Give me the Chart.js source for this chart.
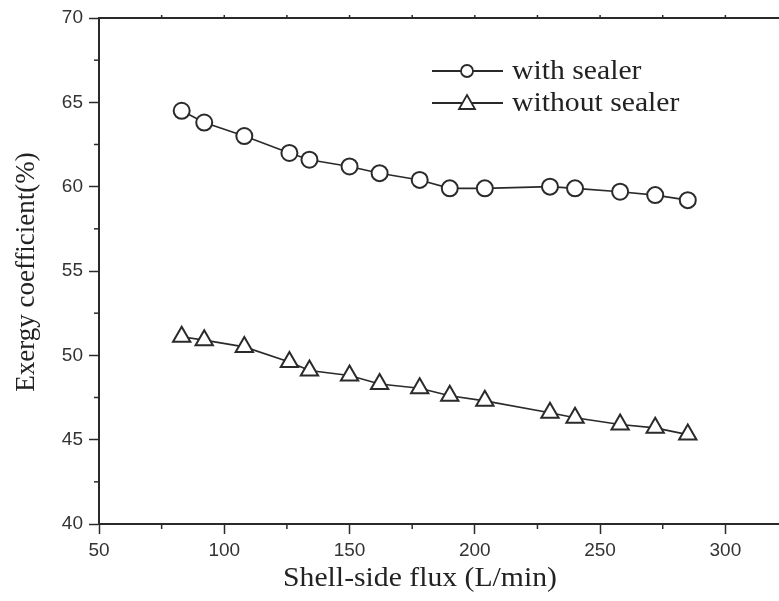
<!DOCTYPE html>
<html>
<head>
<meta charset="utf-8">
<script src="https://cdn.jsdelivr.net/npm/chart.js@4.4.1/dist/chart.umd.min.js"></script>
<style>
  html, body { margin: 0; padding: 0; background: #fff; overflow: hidden; }
  #wrap { width: 800px; height: 601px; }
</style>
</head>
<body>
<div id="wrap"><canvas id="exergyChart" width="800" height="601"></canvas></div>
<script>
const flux = [83, 92, 108, 126, 134, 150, 162, 178, 190, 204, 230, 240, 258, 272, 285];
const withSealer = [64.5, 63.8, 63.0, 62.0, 61.6, 61.2, 60.8, 60.4, 59.9, 59.9, 60.0, 59.9, 59.7, 59.5, 59.2];
const withoutSealer = [51.1, 50.9, 50.5, 49.6, 49.1, 48.8, 48.3, 48.05, 47.6, 47.3, 46.6, 46.3, 45.9, 45.7, 45.3];
const seriesNames = ["with sealer", "without sealer"];
const xTitle = "Shell-side flux (L/min)";
const yTitle = "Exergy coefficient(%)";

const ink = "#2a2a2a";
const serif = "'Liberation Serif', 'Times New Roman', serif";

function toPoints(values) {
  return flux.map((x, i) => ({ x, y: values[i] }));
}

// text a little wider than the font's natural width
function wideText(ctx, text, x, y, stretch) {
  ctx.save();
  ctx.translate(x, y);
  ctx.scale(stretch, 1);
  ctx.fillText(text, 0, 0);
  ctx.restore();
}

// minor ticks, top frame line and the hand-laid legend
const decorations = {
  id: "decorations",
  afterDraw(chart) {
    const { ctx, chartArea, scales } = chart;
    const xs = scales.x;
    const ys = scales.y;

    ctx.save();
    ctx.strokeStyle = ink;
    ctx.lineWidth = 2;

    // top frame
    ctx.beginPath();
    ctx.moveTo(chartArea.left, chartArea.top);
    ctx.lineTo(chartArea.right + 2, chartArea.top);
    ctx.stroke();

    ctx.lineWidth = 1.5;
    for (let v = 75; v <= 325; v += 50) {
      const px = xs.getPixelForValue(v);
      ctx.beginPath();
      ctx.moveTo(px, chartArea.bottom);
      ctx.lineTo(px, chartArea.bottom + 5);
      ctx.stroke();
    }
    for (let v = 75; v <= 325; v += 25) {
      const px = xs.getPixelForValue(v);
      ctx.beginPath();
      ctx.moveTo(px, chartArea.top);
      ctx.lineTo(px, chartArea.top - 3);
      ctx.stroke();
    }
    for (let v = 42.5; v < 70; v += 5) {
      const py = ys.getPixelForValue(v);
      ctx.beginPath();
      ctx.moveTo(chartArea.left, py);
      ctx.lineTo(chartArea.left - 5, py);
      ctx.stroke();
    }

    // legend
    const rows = [
      { label: seriesNames[0], y: 71, style: "circle" },
      { label: seriesNames[1], y: 103, style: "triangle" }
    ];
    ctx.font = "27px " + serif;
    ctx.textBaseline = "middle";
    rows.forEach((row) => {
      ctx.strokeStyle = ink;
      ctx.lineWidth = 2;
      ctx.beginPath();
      ctx.moveTo(432, row.y);
      ctx.lineTo(503, row.y);
      ctx.stroke();
      ctx.fillStyle = "#fff";
      ctx.lineWidth = 1.8;
      ctx.beginPath();
      if (row.style === "circle") {
        ctx.arc(467, row.y, 6, 0, Math.PI * 2);
      } else {
        ctx.moveTo(467, row.y - 8);
        ctx.lineTo(475, row.y + 6);
        ctx.lineTo(459, row.y + 6);
        ctx.closePath();
      }
      ctx.fill();
      ctx.stroke();
      ctx.fillStyle = "#222";
      wideText(ctx, row.label, 512, row.y + 1, 1.1);
    });

    // axis titles
    ctx.fillStyle = "#222";
    ctx.font = "27px " + serif;
    ctx.textAlign = "center";
    wideText(ctx, xTitle, 420, 579, 1.1);
    ctx.translate(27, 272);
    ctx.rotate(-Math.PI / 2);
    ctx.fillText(yTitle, 0, 0);
    ctx.restore();
  }
};

new Chart(document.getElementById("exergyChart"), {
  type: "line",
  data: {
    datasets: [
      {
        label: seriesNames[0],
        data: toPoints(withSealer),
        borderColor: ink,
        borderWidth: 1.6,
        pointStyle: "circle",
        pointRadius: 8,
        pointBorderWidth: 2,
        pointBackgroundColor: "#fff",
        pointBorderColor: ink,
        tension: 0
      },
      {
        label: seriesNames[1],
        data: toPoints(withoutSealer),
        borderColor: ink,
        borderWidth: 1.6,
        pointStyle: "triangle",
        pointRadius: 10,
        pointBorderWidth: 2,
        pointBackgroundColor: "#fff",
        pointBorderColor: ink,
        tension: 0
      }
    ]
  },
  options: {
    responsive: false,
    animation: false,
    layout: {
      padding: { top: 18, right: 12, left: 0, bottom: 0 }
    },
    plugins: {
      legend: { display: false },
      tooltip: { enabled: false }
    },
    scales: {
      x: {
        type: "linear",
        min: 50,
        max: 325,
        afterFit(scale) {
          scale.height = 77;
        },
        grid: {
          drawOnChartArea: false,
          tickLength: 10,
          tickColor: ink,
          tickWidth: 1.5
        },
        border: { color: ink, width: 2 },
        ticks: {
          stepSize: 50,
          includeBounds: false,
          padding: 5,
          color: "#333",
          font: { family: "'Liberation Sans', Arial, sans-serif", size: 19 }
        }
      },
      y: {
        type: "linear",
        min: 40,
        max: 70,
        afterFit(scale) {
          scale.width = 99;
        },
        grid: {
          drawOnChartArea: false,
          tickLength: 10,
          tickColor: ink,
          tickWidth: 1.5
        },
        border: { color: ink, width: 2 },
        ticks: {
          stepSize: 5,
          padding: 6,
          color: "#333",
          font: { family: "'Liberation Sans', Arial, sans-serif", size: 19 }
        }
      }
    }
  },
  plugins: [decorations]
});
</script>
</body>
</html>
